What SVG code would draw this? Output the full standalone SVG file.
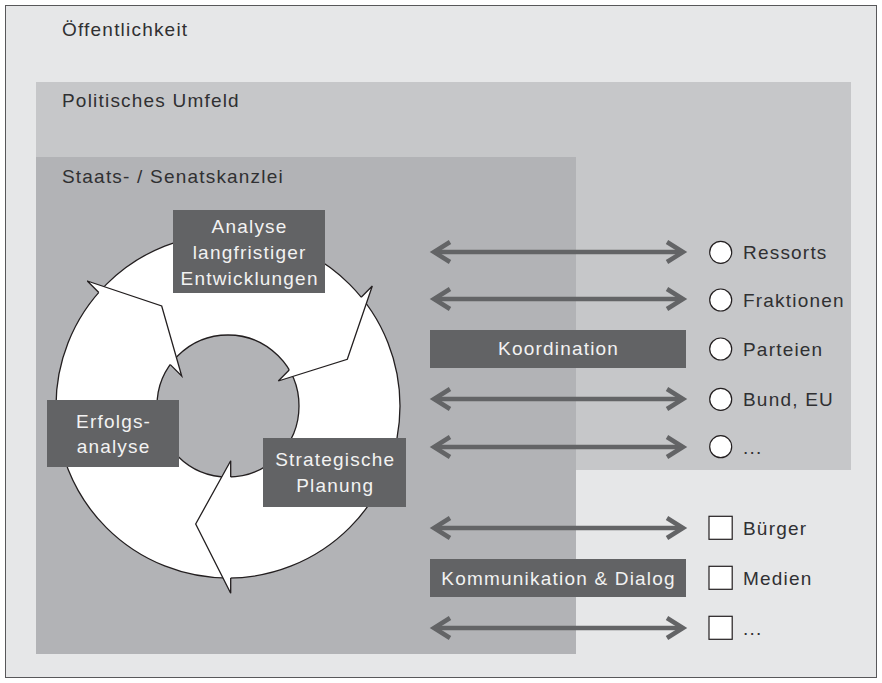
<svg xmlns="http://www.w3.org/2000/svg" width="882" height="683" viewBox="0 0 882 683">
<style>
  text { font-family: "Liberation Sans", Arial, sans-serif; font-size: 19px; letter-spacing: 1.2px; }
  .dark { fill: #303032; }
  .wt { fill: #f2f2f2; text-anchor: middle; }
  .lbl { fill: #626365; }
  .ring { fill: #ffffff; stroke: #231f20; stroke-width: 1.3; fill-rule: evenodd; }
  .head { fill: #ffffff; stroke: none; }
  .headline { fill: none; stroke: #231f20; stroke-width: 1.3; stroke-linejoin: miter; }
  .conn { fill: none; stroke: #636466; stroke-width: 4.5; }
  .chev { fill: none; stroke: #636466; stroke-width: 4.5; stroke-linejoin: miter; stroke-miterlimit: 10; }
  .mark { fill: #ffffff; stroke: #231f20; stroke-width: 1.2; }
</style>

<g id="area-oeffentlichkeit">
  <rect x="5.5" y="5.5" width="871" height="672" fill="#e6e7e8" stroke="#58585a" stroke-width="1"/>
  <text class="dark" x="62" y="36">Öffentlichkeit</text>
</g>
<g id="area-politisches-umfeld">
  <rect x="36" y="82" width="815" height="388" fill="#c6c7c9"/>
  <text class="dark" x="62" y="107">Politisches Umfeld</text>
</g>
<g id="area-staatskanzlei">
  <rect x="36" y="157" width="540" height="497" fill="#b2b3b6"/>
  <text class="dark" x="62" y="183">Staats- / Senatskanzlei</text>
</g>

<g id="cycle">
  <path class="ring" d="M56,406 a172,172 0 1,0 344,0 a172,172 0 1,0 -344,0 Z M157,406 a71,71 0 1,0 142,0 a71,71 0 1,0 -142,0 Z"/>
  <polygon class="head" points="87.3,281 161.7,306 181.7,376"/>
  <polyline class="headline" points="98.8,292.5 87.3,281 161.7,306 181.7,376 170.3,364.6"/>
  <polygon class="head" points="372.3,286 347.3,359.3 278.3,381"/>
  <polyline class="headline" points="361.2,297.2 372.3,286 347.3,359.3 278.3,381 289.2,370"/>
  <polygon class="head" points="230.7,593.3 195.7,524 230.7,460.7"/>
  <polyline class="headline" points="230.7,578 230.7,593.3 195.7,524 230.7,460.7 230.7,477"/>
</g>

<g id="node-analyse">
  <rect class="lbl" x="173" y="210" width="152" height="83"/>
  <text class="wt" x="249.6" y="233">Analyse</text>
  <text class="wt" x="249.6" y="259">langfristiger</text>
  <text class="wt" x="249.6" y="285">Entwicklungen</text>
</g>
<g id="node-erfolgsanalyse">
  <rect class="lbl" x="47" y="400" width="132" height="67"/>
  <text class="wt" x="113.6" y="428">Erfolgs-</text>
  <text class="wt" x="113.6" y="453">analyse</text>
</g>
<g id="node-strategische-planung">
  <rect class="lbl" x="263" y="438" width="143" height="69"/>
  <text class="wt" x="335.2" y="466">Strategische</text>
  <text class="wt" x="335.2" y="492">Planung</text>
</g>

<g id="connectors">
  <g id="arrow-ressorts">
    <line class="conn" x1="434" y1="252" x2="683" y2="252"/>
    <polyline class="chev" points="450,242 434,252 450,262"/>
    <polyline class="chev" points="667,242 683,252 667,262"/>
  </g>
  <g id="arrow-fraktionen">
    <line class="conn" x1="434" y1="299" x2="683" y2="299"/>
    <polyline class="chev" points="450,289 434,299 450,309"/>
    <polyline class="chev" points="667,289 683,299 667,309"/>
  </g>
  <g id="arrow-bund">
    <line class="conn" x1="434" y1="399" x2="683" y2="399"/>
    <polyline class="chev" points="450,389 434,399 450,409"/>
    <polyline class="chev" points="667,389 683,399 667,409"/>
  </g>
  <g id="arrow-more1">
    <line class="conn" x1="434" y1="447" x2="683" y2="447"/>
    <polyline class="chev" points="450,437 434,447 450,457"/>
    <polyline class="chev" points="667,437 683,447 667,457"/>
  </g>
  <g id="arrow-buerger">
    <line class="conn" x1="434" y1="528" x2="683" y2="528"/>
    <polyline class="chev" points="450,518 434,528 450,538"/>
    <polyline class="chev" points="667,518 683,528 667,538"/>
  </g>
  <g id="arrow-more2">
    <line class="conn" x1="434" y1="628" x2="683" y2="628"/>
    <polyline class="chev" points="450,618 434,628 450,638"/>
    <polyline class="chev" points="667,618 683,628 667,638"/>
  </g>
</g>

<g id="node-koordination">
  <rect class="lbl" x="430" y="330" width="256" height="38"/>
  <text class="wt" x="558.6" y="355">Koordination</text>
</g>
<g id="node-kommunikation">
  <rect class="lbl" x="430" y="559" width="256" height="38"/>
  <text class="wt" x="558.6" y="585">Kommunikation &amp; Dialog</text>
</g>

<g id="node-ressorts">
  <circle class="mark" cx="720.7" cy="252.3" r="11"/>
  <text class="dark" x="743" y="259">Ressorts</text>
</g>
<g id="node-fraktionen">
  <circle class="mark" cx="720.7" cy="300" r="11"/>
  <text class="dark" x="743" y="306.5">Fraktionen</text>
</g>
<g id="node-parteien">
  <circle class="mark" cx="720.7" cy="349" r="11"/>
  <text class="dark" x="743" y="355.5">Parteien</text>
</g>
<g id="node-bund-eu">
  <circle class="mark" cx="720.7" cy="399.3" r="11"/>
  <text class="dark" x="743" y="406">Bund, EU</text>
</g>
<g id="node-more1">
  <circle class="mark" cx="720.7" cy="446.7" r="11"/>
  <text class="dark" x="743" y="453.5">...</text>
</g>
<g id="node-buerger">
  <rect class="mark" x="709" y="516.3" width="23.2" height="23"/>
  <text class="dark" x="743" y="534.5">Bürger</text>
</g>
<g id="node-medien">
  <rect class="mark" x="709" y="566.3" width="23.2" height="23"/>
  <text class="dark" x="743" y="584.5">Medien</text>
</g>
<g id="node-more2">
  <rect class="mark" x="709" y="616.3" width="23.2" height="23"/>
  <text class="dark" x="743" y="634.5">...</text>
</g>
</svg>
